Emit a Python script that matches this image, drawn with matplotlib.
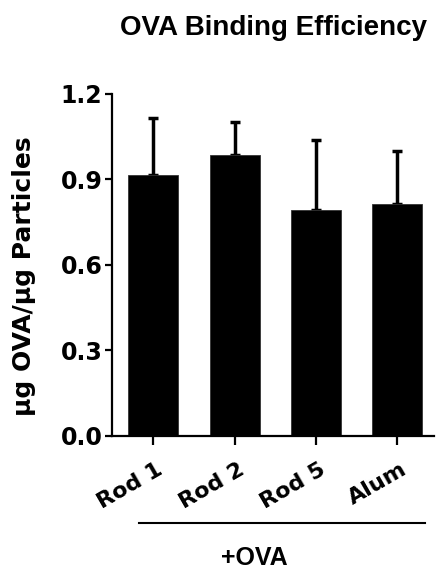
import matplotlib
matplotlib.use("Agg")
import matplotlib.pyplot as plt
import matplotlib.transforms as mtransforms
import numpy as np

categories = ["Rod 1", "Rod 2", "Rod 5", "Alum"]
means = [0.915, 0.985, 0.791, 0.812]
errors = [0.200, 0.116, 0.247, 0.187]
yticks = [0.0, 0.3, 0.6, 0.9, 1.2]

plt.rcParams['font.family'] = ['DejaVu Sans']
plt.rcParams['font.weight'] = 'bold'
ARIAL = ['Liberation Sans', 'DejaVu Sans']

W, H = 438, 571
fig = plt.figure(figsize=(W / 100, H / 100), dpi=100)
ax = fig.add_axes([112 / W, 1 - 435.5 / H, 322 / W, (435.5 - 94) / H])

x = np.arange(len(categories))
ax.bar(x, means, width=0.615, color='black', edgecolor='#333333', linewidth=0.6, zorder=2)
ax.errorbar(x, means, yerr=[np.zeros(len(errors)), errors], fmt='none', ecolor='black',
            elinewidth=2.5, capsize=3.3, capthick=2.5, zorder=1)

ax.set_xlim(-0.508, 3.45)
ax.set_ylim(0, 1.2)
ax.set_yticks(yticks)
ax.set_yticklabels([f"{v:.1f}" for v in yticks], fontsize=17, fontweight='bold')
ax.set_xticks(x)
ax.set_xticklabels([])
base = mtransforms.blended_transform_factory(ax.transData, ax.transAxes)
offset = mtransforms.ScaledTranslation(3 / 100, -23.5 / 100, fig.dpi_scale_trans)
for xi, lab in zip(x, categories):
    ax.text(xi, 0, lab, transform=base + offset, rotation=30, ha='right', va='top',
            rotation_mode='anchor', fontsize=16, fontweight='bold', clip_on=False)
ax.tick_params(axis='y', length=5, width=1.6, pad=2)
ax.tick_params(axis='x', length=6.5, width=1.6, pad=3)
for s in ['top', 'right']:
    ax.spines[s].set_visible(False)
for s in ['left', 'bottom']:
    ax.spines[s].set_linewidth(1.6)

fig.text(24 / W, 1 - 276 / H, "µg OVA/µg Particles", rotation=90, ha='center', va='center',
         fontsize=18, fontweight='bold')

fig.text(273 / W, 1 - 35 / H, "OVA Binding Efficiency", ha='center', va='baseline',
         fontsize=20, fontweight='bold', family=ARIAL)

fig.add_artist(plt.Line2D([139 / W, 425 / W], [1 - 523 / H, 1 - 523 / H],
                          color='black', linewidth=1.5))
fig.text(254.5 / W, 1 - 565 / H, "+OVA", ha='center', va='baseline',
         fontsize=18, fontweight='bold', family=ARIAL)

fig.savefig("out.png", dpi=100)
